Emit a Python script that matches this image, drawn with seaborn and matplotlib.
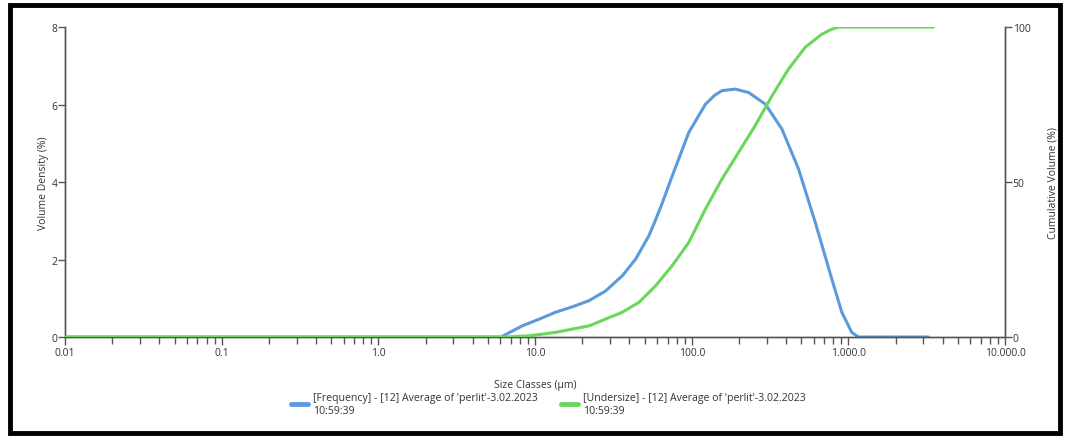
import matplotlib
matplotlib.use("Agg")
import matplotlib.pyplot as plt
import matplotlib.ticker as mticker
from matplotlib.lines import Line2D
from matplotlib.patches import Rectangle
import numpy as np
import pandas as pd
import seaborn as sns

# Particle size distribution (size classes in µm)
freq_sizes = [0.01, 6.05, 8.3, 10.6, 13.5, 17.3, 22.1, 28.2, 36.0, 43.8, 53.2, 58.7,
              64.7, 74.9, 95.7, 122.3, 140.0, 156.0, 190.0, 231.0, 295.0, 376.0,
              480.0, 614.0, 783.0, 907.0, 1050.0, 1158.0, 3240.0]
freq_values = [0.0, 0.0, 0.29, 0.46, 0.64, 0.78, 0.94, 1.19, 1.58, 2.01, 2.61, 3.02,
               3.45, 4.15, 5.28, 6.01, 6.24, 6.36, 6.40, 6.31, 6.01, 5.37,
               4.34, 2.96, 1.50, 0.64, 0.12, 0.0, 0.0]

cum_sizes = [0.01, 6.5, 9.16, 13.5, 22.1, 36.0, 46.0, 58.7, 74.9, 95.7, 122.3, 156.0,
             199.0, 254.0, 325.0, 415.0, 530.0, 676.0, 780.0, 864.0, 3478.0]
cum_values = [0.0, 0.0, 0.4, 1.5, 3.6, 8.0, 11.2, 16.5, 23.0, 30.5, 41.3, 51.0,
              59.6, 68.2, 77.8, 86.5, 93.5, 97.7, 99.3, 100.0, 100.0]

decade_ticks = [0.01, 0.1, 1.0, 10.0, 100.0, 1000.0, 10000.0]
decade_labels = ["0.01", "0.1", "1.0", "10.0", "100.0", "1.000.0", "10.000.0"]

freq_label = "[Frequency] - [12] Average of 'perlit'-3.02.2023\n10:59:39"
cum_label = "[Undersize] - [12] Average of 'perlit'-3.02.2023\n10:59:39"

blue = "#5b9bdc"
green = "#6ad75c"
axis_grey = "#555555"
text_grey = "#333333"

sns.set_theme(style="white")
plt.rcParams["font.family"] = ["Open Sans", "DejaVu Sans"]

fig = plt.figure(figsize=(10.67, 4.39), dpi=100)
ax = fig.add_axes([0.061, 0.230, 0.881, 0.706])
ax2 = ax.twinx()

df_freq = pd.DataFrame({"size": freq_sizes, "value": freq_values})
df_cum = pd.DataFrame({"size": cum_sizes, "value": cum_values})

sns.lineplot(data=df_freq, x="size", y="value", ax=ax, color=blue, linewidth=2.2,
             estimator=None, sort=False, zorder=2, solid_joinstyle="round")
sns.lineplot(data=df_cum, x="size", y="value", ax=ax2, color=green, linewidth=2.2,
             estimator=None, sort=False, zorder=3, solid_joinstyle="round")

for a in (ax, ax2):
    a.set_xscale("log")
    a.set_xlim(0.01, 10000)
    a.set_xlabel("")
    a.set_ylabel("")
    a.spines["top"].set_visible(False)
    for s in a.spines.values():
        s.set_color(axis_grey)
        s.set_linewidth(1.0)

ax.set_ylim(0, 8)
ax2.set_ylim(0, 100)
ax.set_yticks([0, 2, 4, 6, 8])
ax2.set_yticks([0, 50, 100])

ax.xaxis.set_major_locator(mticker.FixedLocator(decade_ticks))
ax.xaxis.set_major_formatter(mticker.FixedFormatter(decade_labels))
ax.xaxis.set_minor_locator(mticker.LogLocator(base=10, subs=np.arange(2, 10)))
ax.xaxis.set_minor_formatter(mticker.NullFormatter())

ax.tick_params(axis="x", which="major", direction="out", length=6, width=1.0,
               color=axis_grey, labelsize=7.5, labelcolor=text_grey, pad=1.5, bottom=True)
ax.tick_params(axis="x", which="minor", direction="out", length=5, width=1.0,
               color=axis_grey, bottom=True)
ax.tick_params(axis="y", direction="out", length=5, width=1.0, color=axis_grey,
               labelsize=7.5, labelcolor=text_grey, pad=0.5, left=True)
ax2.tick_params(axis="y", direction="out", length=5, width=1.0, color=axis_grey,
                labelsize=7.5, labelcolor=text_grey, pad=0.5, right=True)

ax.set_ylabel("Volume Density (%)", fontsize=7.5, color=text_grey, labelpad=2)
ax2.set_ylabel("Cumulative Volume (%)", fontsize=7.5, color=text_grey, labelpad=12)
ax.set_xlabel("Size Classes (µm)", fontsize=7.5, color=text_grey, labelpad=15)

handles = [Line2D([0], [0], color=blue, linewidth=3.5),
           Line2D([0], [0], color=green, linewidth=3.5)]
fig.legend(handles, [freq_label, cum_label], loc="center", ncol=2,
           bbox_to_anchor=(0.514, 0.078), frameon=False, fontsize=7.6,
           handlelength=1.6, handletextpad=0.5, columnspacing=2.2,
           labelcolor=text_grey)

# Black frame around the whole figure
fig.patches.append(Rectangle((0.009, 0.012), 0.984, 0.975, transform=fig.transFigure,
                             fill=False, edgecolor="black", linewidth=3.5))

fig.savefig("out.png", dpi=100)
